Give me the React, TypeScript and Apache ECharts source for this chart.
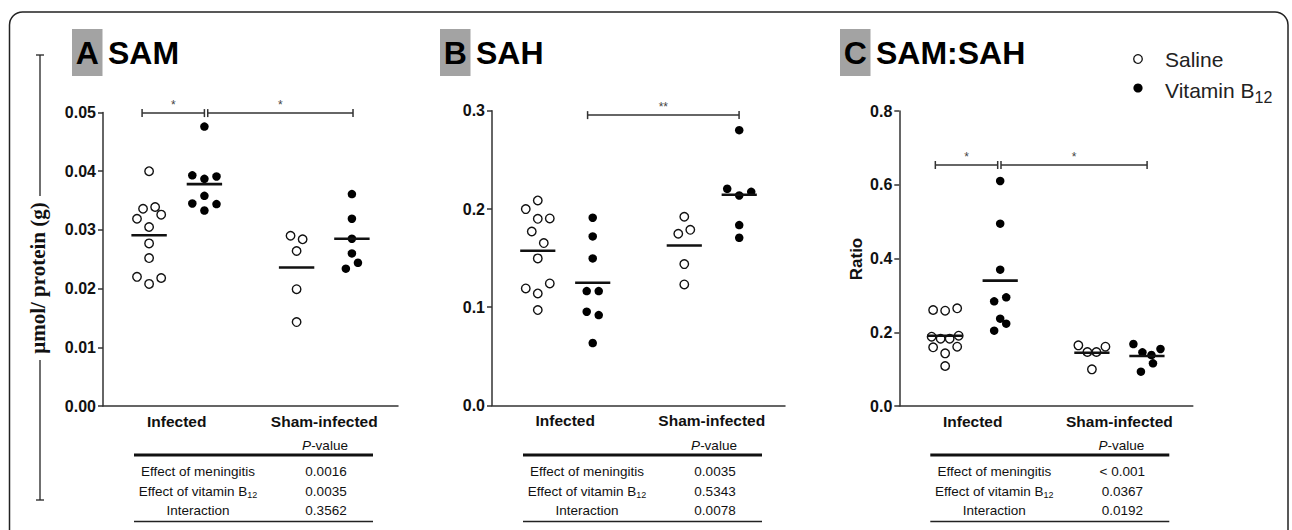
import React, { useEffect, useRef } from "react";
import * as echarts from "echarts";

// ---------- data ----------
const categories = ["Infected", "Sham-infected"];
const legendNames = ["Saline", "Vitamin B{sub|12}"];

// Panel A – SAM (µmol / protein (g))
const samSalineInfected = [0.04, 0.0336, 0.0339, 0.0319, 0.0326, 0.0305, 0.0277, 0.0252, 0.022, 0.0218, 0.0208];
const samSalineInfectedSlot = [0, -1, 1, -2, 2, 0, 0, 0, -2, 2, 0];
const samVitaminInfected = [0.0476, 0.0393, 0.0391, 0.0387, 0.0358, 0.0345, 0.0344, 0.0333];
const samVitaminInfectedSlot = [0, -2, 2, 0, 0, -2, 2, 0];
const samSalineSham = [0.029, 0.0284, 0.0264, 0.0199, 0.0143];
const samSalineShamSlot = [-1, 1, 0, 0, 0];
const samVitaminSham = [0.0361, 0.0319, 0.0285, 0.026, 0.0244, 0.0234];
const samVitaminShamSlot = [0, 0, 0, 0, 1, -1];
const samMeans = [0.0291, 0.0378, 0.0236, 0.0285];
const samSig = [[0.53, 1.375, 0.0499], [1.42, 3.39, 0.0499]];
const samSigLabels = ["*", "*"];
const samTicks = [0, 0.01, 0.02, 0.03, 0.04, 0.05];
const samP = ["0.0016", "0.0035", "0.3562"];

// Panel B – SAH
const sahSalineInfected = [0.2087, 0.1999, 0.19, 0.1904, 0.1771, 0.1653, 0.1497, 0.1242, 0.1191, 0.114, 0.0971];
const sahSalineInfectedSlot = [0, -2, 0, 2, -1, 1, 0, 2, -2, 0, 0];
const sahVitaminInfected = [0.1911, 0.1721, 0.1497, 0.1164, 0.1164, 0.0954, 0.092, 0.0635];
const sahVitaminInfectedSlot = [0, 0, 0, -1, 1, -1, 1, 0];
const sahSalineSham = [0.1921, 0.1748, 0.1788, 0.1439, 0.1232];
const sahSalineShamSlot = [0, -1, 1, 0, 0];
const sahVitaminSham = [0.2803, 0.2206, 0.2138, 0.2175, 0.1836, 0.1707];
const sahVitaminShamSlot = [0, -2, 0, 2, 0, 0];
const sahMeans = [0.1575, 0.1249, 0.1629, 0.2145];
const sahSig = [[1.305, 3.373, 0.2956]];
const sahSigLabels = ["**"];
const sahTicks = [0, 0.1, 0.2, 0.3];
const sahP = ["0.0035", "0.5343", "0.0078"];

// Panel C – SAM:SAH ratio
const ratioSalineInfected = [0.2603, 0.2585, 0.2649, 0.188, 0.1826, 0.1826, 0.1907, 0.1591, 0.1609, 0.1428, 0.1085];
const ratioSalineInfectedSlot = [-2, 0, 2, -2.25, -0.75, 0.75, 2.25, -2, 2, 0, 0];
const ratioVitaminInfected = [0.6102, 0.4945, 0.3697, 0.2838, 0.2947, 0.2368, 0.2233, 0.2043];
const ratioVitaminInfectedSlot = [0, 0, 0, -1, 1, 0, 1, -1];
const ratioSalineSham = [0.1645, 0.1464, 0.1464, 0.1609, 0.0994];
const ratioSalineShamSlot = [-2.25, -0.75, 0.75, 2.25, 0];
const ratioVitaminSham = [0.1681, 0.1455, 0.1383, 0.1546, 0.1157, 0.0931];
const ratioVitaminShamSlot = [-2.25, -0.75, 0.75, 2.25, 1, -1];
const ratioMeans = [0.1907, 0.3399, 0.1446, 0.1356];
const ratioSig = [[0.491, 1.341, 0.6536], [1.386, 3.377, 0.6536]];
const ratioSigLabels = ["*", "*"];
const ratioTicks = [0, 0.2, 0.4, 0.6, 0.8];
const ratioP = ["< 0.001", "0.0367", "0.0192"];

const tableRows = ["Effect of meningitis", "Effect of vitamin B{sub|12}", "Interaction"];
const panelLetters = ["A", "B", "C"];
const panelTitles = ["SAM", "SAH", "SAM:SAH"];
const yNames = ["", "", "Ratio"];

// ---------- layout constants ----------
const SANS = "'Liberation Sans', Arial, Helvetica, sans-serif";
const SERIF = "'Liberation Serif', 'Times New Roman', serif";
const CAT_POS = [1, 3]; // category centres on hidden value axis (0..4)
const GROUP_OFFSET = 0.375;
const SLOT = 0.082;
const HALF_MEAN = 0.24;

const grids = [
  { left: 103, top: 112.5, width: 295, height: 293.5 },
  { left: 492, top: 110.8, width: 293, height: 294.6 },
  { left: 899.3, top: 111, width: 293.5, height: 295 },
];
const titleBoxX = [72, 440, 840];

type Panel = {
  saline: [number[], number[]][];
  vitamin: [number[], number[]][];
  means: number[];
  sig: number[][];
  sigLabels: string[];
  ticks: number[];
  decimals: number;
  p: string[];
};

const panels: Panel[] = [
  {
    saline: [[samSalineInfected, samSalineInfectedSlot], [samSalineSham, samSalineShamSlot]],
    vitamin: [[samVitaminInfected, samVitaminInfectedSlot], [samVitaminSham, samVitaminShamSlot]],
    means: samMeans, sig: samSig, sigLabels: samSigLabels, ticks: samTicks, decimals: 2, p: samP,
  },
  {
    saline: [[sahSalineInfected, sahSalineInfectedSlot], [sahSalineSham, sahSalineShamSlot]],
    vitamin: [[sahVitaminInfected, sahVitaminInfectedSlot], [sahVitaminSham, sahVitaminShamSlot]],
    means: sahMeans, sig: sahSig, sigLabels: sahSigLabels, ticks: sahTicks, decimals: 1, p: sahP,
  },
  {
    saline: [[ratioSalineInfected, ratioSalineInfectedSlot], [ratioSalineSham, ratioSalineShamSlot]],
    vitamin: [[ratioVitaminInfected, ratioVitaminInfectedSlot], [ratioVitaminSham, ratioVitaminShamSlot]],
    means: ratioMeans, sig: ratioSig, sigLabels: ratioSigLabels, ticks: ratioTicks, decimals: 1, p: ratioP,
  },
];

function buildPoints(groups: [number[], number[]][], sign: number) {
  const out: number[][] = [];
  groups.forEach(([vals, slots], c) => {
    const center = CAT_POS[c] + sign * GROUP_OFFSET;
    vals.forEach((v, i) => out.push([center + slots[i] * SLOT, v]));
  });
  return out;
}

function buildOption() {
  const xAxis: any[] = [];
  const yAxis: any[] = [];
  const series: any[] = [];
  const graphic: any[] = [];

  panels.forEach((p, i) => {
    xAxis.push({
      type: "category",
      gridIndex: i,
      data: categories,
      boundaryGap: true,
      axisLine: { lineStyle: { color: "#333", width: 1.5 } },
      axisTick: { alignWithLabel: true, length: 5, lineStyle: { color: "#333", width: 1.5 } },
      axisLabel: { fontFamily: SANS, fontWeight: "bold", fontSize: 15.5, color: "#111", margin: 7 },
      splitLine: { show: false },
    });
    xAxis.push({ type: "value", gridIndex: i, min: 0, max: 4, show: false });
    const max = p.ticks[p.ticks.length - 1];
    yAxis.push({
      type: "value",
      gridIndex: i,
      min: 0,
      max,
      interval: p.ticks[1] - p.ticks[0],
      axisLine: { show: true, lineStyle: { color: "#333", width: 1.5 } },
      axisTick: { show: true, length: 5, lineStyle: { color: "#333", width: 1.5 } },
      axisLabel: {
        fontFamily: SANS, fontWeight: "bold", fontSize: 16, color: "#111", margin: 7,
        formatter: (v: number) => v.toFixed(p.decimals),
      },
      splitLine: { show: false },
    });
    const xi = i * 2 + 1;
    series.push({
      type: "scatter", name: "Saline", xAxisIndex: xi, yAxisIndex: i,
      data: buildPoints(p.saline, -1), symbol: "circle", symbolSize: 8.5,
      itemStyle: { color: "#fff", borderColor: "#111", borderWidth: 1.4, opacity: 1 },
      z: 3,
    });
    series.push({
      type: "scatter", name: "Vitamin B12", xAxisIndex: xi, yAxisIndex: i,
      data: buildPoints(p.vitamin, 1), symbol: "circle", symbolSize: 8.5,
      itemStyle: { color: "#000", opacity: 1 },
      z: 3,
    });
    const meanData = p.means.map((m, k) => [CAT_POS[Math.floor(k / 2)] + (k % 2 === 0 ? -1 : 1) * GROUP_OFFSET, m]);
    series.push({
      type: "custom", xAxisIndex: xi, yAxisIndex: i, z: 4,
      data: meanData,
      renderItem: (_params: any, api: any) => {
        const c = api.value(0), m = api.value(1);
        const a = api.coord([c - HALF_MEAN, m]);
        const b = api.coord([c + HALF_MEAN, m]);
        return { type: "line", shape: { x1: a[0], y1: a[1], x2: b[0], y2: b[1] }, style: { stroke: "#111", lineWidth: 2.6 } };
      },
    });
    const labels = p.sigLabels;
    series.push({
      type: "custom", xAxisIndex: xi, yAxisIndex: i, z: 4,
      data: p.sig,
      encode: { x: [0, 1], y: 2 },
      renderItem: (params: any, api: any) => {
        const y = api.value(2);
        const a = api.coord([api.value(0), y]);
        const b = api.coord([api.value(1), y]);
        const st = { stroke: "#333", lineWidth: 1.5 };
        return {
          type: "group",
          children: [
            { type: "line", shape: { x1: a[0], y1: a[1], x2: b[0], y2: b[1] }, style: st },
            { type: "line", shape: { x1: a[0], y1: a[1] - 4, x2: a[0], y2: a[1] + 4 }, style: st },
            { type: "line", shape: { x1: b[0], y1: b[1] - 4, x2: b[0], y2: b[1] + 4 }, style: st },
            {
              type: "text", x: (a[0] + b[0]) / 2, y: a[1] - 8,
              style: { text: labels[params.dataIndex], align: "center", verticalAlign: "middle", fontSize: 12, fontFamily: SANS, fill: "#444" },
            },
          ],
        };
      },
    });

    // y axis name (only panel C)
    if (yNames[i]) {
      graphic.push({
        type: "text", x: grids[i].left - 42.5, y: 259, rotation: Math.PI / 2,
        style: { text: yNames[i], font: `bold 17px ${SANS}`, fill: "#111", align: "center", verticalAlign: "middle" },
      });
    }

    // title
    const bx = titleBoxX[i];
    graphic.push({ type: "rect", shape: { x: bx, y: 29, width: 30.5, height: 47 }, style: { fill: "#a3a3a3" } });
    graphic.push({
      type: "text", x: bx + 15.25, y: 53,
      style: { text: panelLetters[i], font: `bold 32px ${SANS}`, fill: "#000", align: "center", verticalAlign: "middle" },
    });
    graphic.push({
      type: "text", x: bx + 36, y: 53,
      style: { text: panelTitles[i], font: `bold 32px ${SANS}`, fill: "#000", align: "left", verticalAlign: "middle" },
    });

    // table
    const L = grids[i].left;
    const rich = { sub: { fontSize: 9, lineHeight: 9, verticalAlign: "bottom", fontFamily: SANS, fill: "#111" } };
    graphic.push({
      type: "text", x: L + 222, y: 445,
      style: {
        text: "{i|P}-value", align: "center", verticalAlign: "middle", fontSize: 13.5, fontFamily: SANS, fill: "#111",
        rich: { i: { fontStyle: "italic", fontSize: 13.5, fontFamily: SANS, fill: "#111" } },
      },
    });
    graphic.push({ type: "line", shape: { x1: L + 31, y1: 455, x2: L + 270, y2: 455 }, style: { stroke: "#111", lineWidth: 3 } });
    graphic.push({ type: "line", shape: { x1: L + 31, y1: 521.5, x2: L + 270, y2: 521.5 }, style: { stroke: "#222", lineWidth: 1.3 } });
    const rowY = [471.5, 491.5, 510.5];
    tableRows.forEach((r, k) => {
      graphic.push({
        type: "text", x: L + 95, y: rowY[k],
        style: { text: r, align: "center", verticalAlign: "middle", fontSize: 13.5, lineHeight: 16, fontFamily: SANS, fill: "#111", rich },
      });
      graphic.push({
        type: "text", x: L + 223, y: rowY[k],
        style: { text: p.p[k], align: "center", verticalAlign: "middle", fontSize: 13.5, fontFamily: SANS, fill: "#111" },
      });
    });
  });

  // frame
  graphic.push({
    type: "rect", shape: { x: 9.5, y: 12, width: 1278.5, height: 560, r: 13 },
    style: { fill: "none", stroke: "#222", lineWidth: 1.5 }, z: -1,
  });
  // shared y label with bracket
  const bst = { stroke: "#222", lineWidth: 1.3 };
  graphic.push({ type: "line", shape: { x1: 40, y1: 55, x2: 40, y2: 196 }, style: bst });
  graphic.push({ type: "line", shape: { x1: 40, y1: 360, x2: 40, y2: 500 }, style: bst });
  graphic.push({ type: "line", shape: { x1: 36, y1: 55, x2: 44, y2: 55 }, style: bst });
  graphic.push({ type: "line", shape: { x1: 36, y1: 500, x2: 44, y2: 500 }, style: bst });
  graphic.push({
    type: "text", x: 38, y: 278, rotation: Math.PI / 2,
    style: { text: "μmol/ protein (g)", font: `bold 21px ${SERIF}`, fill: "#111", align: "center", verticalAlign: "middle" },
  });

  // legend
  graphic.push({ type: "circle", shape: { cx: 1138, cy: 59, r: 4.3 }, style: { fill: "#fff", stroke: "#111", lineWidth: 1.3 } });
  graphic.push({ type: "circle", shape: { cx: 1138, cy: 88, r: 4.6 }, style: { fill: "#000" } });
  graphic.push({
    type: "text", x: 1165, y: 59,
    style: { text: legendNames[0], font: `21px ${SANS}`, fill: "#222", align: "left", verticalAlign: "middle" },
  });
  graphic.push({
    type: "text", x: 1165, y: 90,
    style: {
      text: legendNames[1], fontSize: 21, fontFamily: SANS, lineHeight: 30, fill: "#222", align: "left", verticalAlign: "middle",
      rich: { sub: { fontSize: 16, lineHeight: 16, verticalAlign: "bottom", fontFamily: SANS, fill: "#222" } },
    },
  });

  return {
    animation: false,
    backgroundColor: "#fff",
    grid: grids,
    xAxis,
    yAxis,
    series,
    graphic,
  };
}

export default function App() {
  const ref = useRef<HTMLDivElement>(null);
  useEffect(() => {
    document.body.style.margin = "0";
    const chart = echarts.init(ref.current!, undefined, { renderer: "svg" });
    chart.setOption(buildOption() as any);
    return () => chart.dispose();
  }, []);
  return <div ref={ref} style={{ position: "absolute", left: 0, top: 0, width: 1292, height: 530 }} />;
}
